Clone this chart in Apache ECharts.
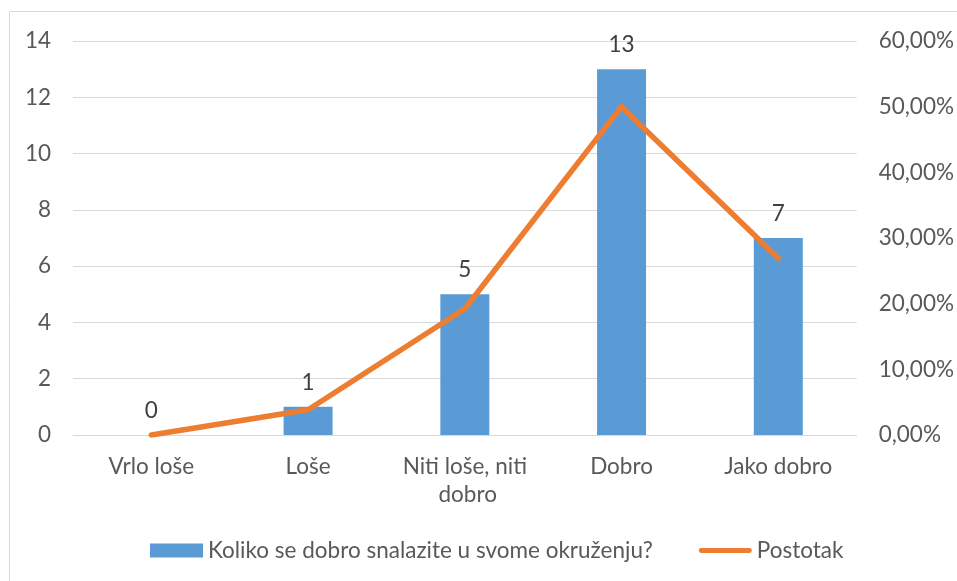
<!DOCTYPE html>
<html><head><meta charset="utf-8">
<script src="https://cdn.jsdelivr.net/npm/echarts@6/dist/echarts.min.js"></script>
<style>html,body{margin:0;padding:0;background:#fff}#c{width:957px;height:581px}</style>
</head><body><div id="c"></div>
<script>
const categories = ['Vrlo loše', 'Loše', 'Niti loše, niti dobro', 'Dobro', 'Jako dobro'];
const counts = [0, 1, 5, 13, 7];
const percents = [0, 3.85, 19.23, 50, 26.92];
const leftTicks = [0, 2, 4, 6, 8, 10, 12, 14];
const barName = 'Koliko se dobro snalazite u svome okruženju?';
const lineName = 'Postotak';

const font = 'Lato, "Open Sans", sans-serif';
const fs = 22.5;
const chart = echarts.init(document.getElementById('c'), null, {renderer: 'canvas'});
chart.setOption({
  animation: false,
  textStyle: {fontFamily: font},
  graphic: [
    {type: 'line', shape: {x1: 9.5, y1: 11.5, x2: 957, y2: 11.5}, style: {stroke: '#D9D9D9', lineWidth: 1}},
    {type: 'line', shape: {x1: 9.5, y1: 11.5, x2: 9.5, y2: 581}, style: {stroke: '#D9D9D9', lineWidth: 1}}
  ],
  grid: {left: 73, right: 99, top: 41, bottom: 146, containLabel: false},
  legend: {
    top: 534, left: 145,
    itemWidth: 53, itemHeight: 14, itemGap: 46,
    textStyle: {fontSize: fs, color: '#595959', fontFamily: font},
    data: [
      {name: barName, icon: 'rect'},
      {name: lineName, icon: 'path://M5,0H105A5,5 0 0 1 105,10H5A5,5 0 0 1 5,0Z'}
    ]
  },
  xAxis: {
    type: 'category', data: categories,
    axisTick: {show: false},
    axisLine: {lineStyle: {color: '#D9D9D9', width: 1}},
    axisLabel: {fontSize: fs, color: '#595959', margin: 18, width: 140, overflow: 'break', lineHeight: 28, interval: 0}
  },
  yAxis: [
    {type: 'value', min: 0, max: 14, interval: 2,
     axisLabel: {fontSize: fs, color: '#595959', margin: 22},
     splitLine: {lineStyle: {color: '#D9D9D9', width: 1}},
     axisLine: {show: false}, axisTick: {show: false}},
    {type: 'value', min: 0, max: 60, interval: 10,
     axisLabel: {fontSize: fs, color: '#595959', margin: 22,
       formatter: v => v.toFixed(2).replace('.', ',') + '%'},
     splitLine: {show: false}, axisLine: {show: false}, axisTick: {show: false}}
  ],
  series: [
    {name: barName, type: 'bar', data: counts, barWidth: 49, yAxisIndex: 0,
     itemStyle: {color: '#5B9BD5'},
     label: {show: true, position: 'top', distance: 13, fontSize: fs, color: '#404040'}},
    {name: lineName, type: 'line', data: percents, yAxisIndex: 1,
     symbol: 'none', z: 5,
     lineStyle: {color: '#ED7D31', width: 5.5, cap: 'round', join: 'round'},
     itemStyle: {color: '#ED7D31'}}
  ]
});
</script></body></html>
